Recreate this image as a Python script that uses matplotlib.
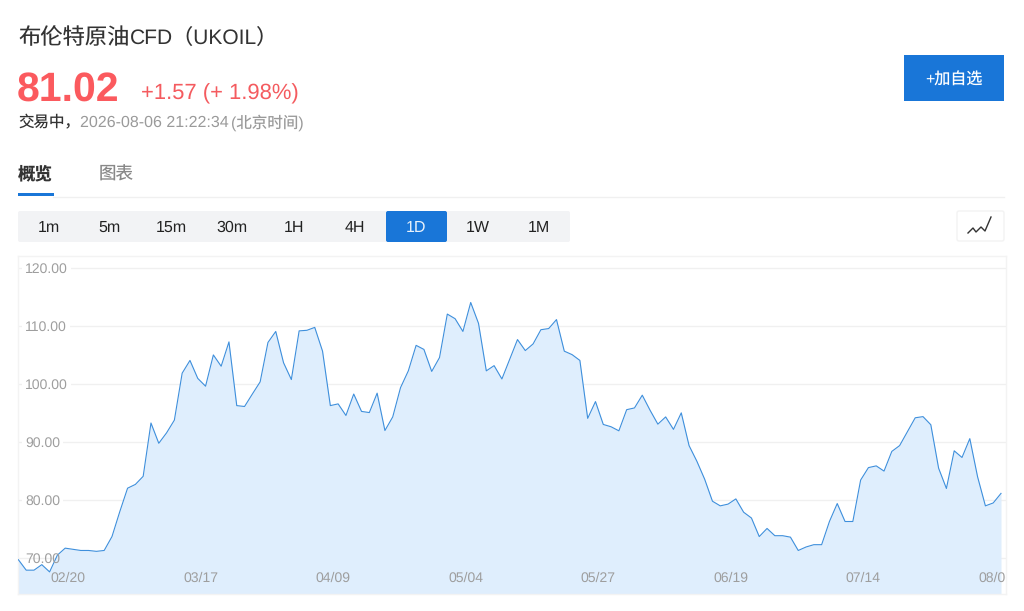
import matplotlib
matplotlib.use("Agg")
import matplotlib.pyplot as plt
from matplotlib.patches import FancyBboxPatch, Rectangle

plt.rcParams['font.family'] = ['Liberation Sans', 'Noto Sans CJK SC', 'DejaVu Sans']
plt.rcParams['text.hinting'] = 'no_hinting'
plt.rcParams['text.hinting_factor'] = 1

# daily close
prices = [
    69.7, 67.9, 67.9, 68.85, 67.6, 70.5, 71.7, 71.5, 71.3, 71.3, 71.15, 71.3,
    73.7, 78.0, 82.05, 82.7, 84.1, 93.3, 89.8, 91.6, 93.8, 101.9, 104.1, 101.0,
    99.65, 105.05, 103.1, 107.3, 96.3, 96.15, 98.3, 100.4, 107.2, 109.1, 103.7, 100.8,
    109.2, 109.3, 109.8, 105.7, 96.3, 96.6, 94.6, 98.3, 95.3, 95.1, 98.45, 92.0,
    94.35, 99.4, 102.3, 106.7, 106.0, 102.2, 104.6, 112.1, 111.3, 109.1, 114.1, 110.5,
    102.3, 103.2, 100.9, 104.3, 107.7, 105.8, 106.95, 109.4, 109.6, 111.15, 105.7, 105.1,
    104.1, 94.1, 97.0, 93.05, 92.65, 91.95, 95.6, 95.9, 98.1, 95.5, 93.1, 94.35,
    92.2, 95.05, 89.4, 86.7, 83.6, 79.8, 79.0, 79.3, 80.2, 77.9, 76.9, 73.7,
    75.1, 73.85, 73.85, 73.6, 71.3, 71.9, 72.3, 72.3, 76.3, 79.4, 76.3, 76.3,
    83.45, 85.6, 85.9, 85.0, 88.4, 89.4, 91.8, 94.2, 94.4, 93.0, 85.5, 82.0,
    88.5, 87.35, 90.6, 84.0, 79.0, 79.5, 81.15,
]
date_labels = ["02/20", "03/17", "04/09", "05/04", "05/27", "06/19", "07/14", "08/06"]
date_index = [6, 23, 40, 57, 74, 91, 108, 125]
y_ticks = [70, 80, 90, 100, 110, 120]
periods = ["1m", "5m", "15m", "30m", "1H", "4H", "1D", "1W", "1M"]

BLUE = "#1976D8"
RED = "#F45B5F"
W, H = 1024, 611


def px_size(px):
    # font size in points for a size in image pixels
    return px * 72 / 100


fig = plt.figure(figsize=(W / 100, H / 100), dpi=100, facecolor="white")

# page furniture is laid out in image pixels
ui = fig.add_axes([0, 0, 1, 1], zorder=0)
ui.set_xlim(0, W)
ui.set_ylim(H, 0)
ui.axis("off")

ui.text(18, 38, "布伦特原油", fontsize=px_size(22.3), color="#333333", va="center")
ui.text(130, 38, "CFD（UKOIL）", fontsize=px_size(21), color="#333333", va="center")
ui.text(17, 90.5, "81.02", fontsize=px_size(41), color="#FB5A5E", fontweight="bold", va="center")
ui.text(141, 94, "+1.57 (+ 1.98%)", fontsize=px_size(22), color=RED, va="center")
ui.text(18, 123.5, "交易中，", fontsize=px_size(15.5), color="#333333", va="center")
ui.text(79.5, 123, "2026-08-06 21:22:34", fontsize=px_size(15.5), color="#9A9A9A", va="center")
ui.text(230.5, 123, "(北京时间)", fontsize=px_size(15.5), color="#9A9A9A", va="center")

ui.text(18, 174, "概览", fontsize=px_size(17.5), color="#333333", fontweight="bold", va="center")
ui.text(99, 174.5, "图表", fontsize=px_size(17.5), color="#888888", va="center")
ui.add_patch(Rectangle((18, 193), 35.5, 3, color=BLUE, lw=0))
ui.plot([53, 1004], [196.5, 196.5], color="#F0F0F0", lw=1)

# add button
ui.add_patch(Rectangle((903.5, 55), 100.5, 46, color=BLUE, lw=0))
ui.text(953.5, 80, "+加自选", fontsize=px_size(16), color="white", ha="center", va="center")

# period selector
ui.add_patch(FancyBboxPatch((19, 212), 550, 29, boxstyle="round,pad=1,rounding_size=2", fc="#F2F3F5", ec="none"))
ui.add_patch(FancyBboxPatch((387, 212), 59, 29, boxstyle="round,pad=1,rounding_size=2", fc=BLUE, ec="none"))
for i, p in enumerate(periods):
    ui.text(48.5 + i * 61.3, 227.5, p, fontsize=px_size(15.5), ha="center", va="center",
            color="#E8F1FB" if p == "1D" else "#222222")

# chart type icon
ui.add_patch(FancyBboxPatch((958, 212), 45, 28, boxstyle="round,pad=1,rounding_size=2",
                            fc="white", ec="#F3F3F3", lw=1))
ui.plot([968, 973, 976, 981, 985, 991], [233, 228, 232, 227, 231, 217], color="#333333", lw=1)

# price chart
left, right, top, bottom = 18.4, 1005.5, 256, 594
ax = fig.add_axes([left / W, 1 - bottom / H, (right - left) / W, (bottom - top) / H], zorder=1)
ax.patch.set_alpha(0)
step = (1001.0 - left) / (len(prices) - 1)
per_unit = (558.0 - 268.3) / 50
ax.set_xlim(0, (right - left) / step)
ax.set_ylim(70 - (bottom - 558.0) / per_unit, 70 + (558.0 - top) / per_unit)

for s in ax.spines.values():
    s.set_color("#F3F3F3")
    s.set_linewidth(1)
ax.set_xticks([])
ax.set_yticks([])

days = range(len(prices))
ax.hlines(y_ticks, 0, (right - left) / step, color="#F0F0F0", lw=1, zorder=1)
ax.fill_between(days, prices, ax.get_ylim()[0], color="#DFEEFD", lw=0, zorder=2)
ax.plot(days, prices, color="#3E8FDC", lw=0.8, zorder=3)

for v in y_ticks:
    # labels above the fill have a white gap cut out of the grid line
    box = dict(fc="white", ec="none", pad=2) if v > 70 else None
    ax.annotate(f"{v:.2f}", (0, v), xytext=(6.5, -1), textcoords="offset pixels",
                fontsize=px_size(13.5), color="#9E9E9E", va="center", ha="left", bbox=box, zorder=4)

for d, lab in zip(date_index, date_labels):
    ax.text(d + 0.35, 70 + (558.0 - 578.5) / per_unit, lab, fontsize=px_size(13.5), color="#9E9E9E",
            ha="center", va="center", clip_on=True, zorder=4)

fig.savefig("out.png", dpi=100)
